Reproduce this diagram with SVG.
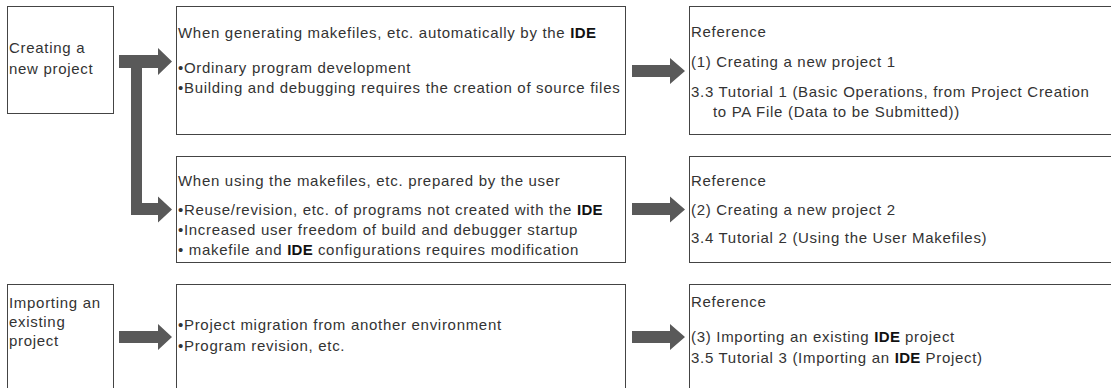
<svg xmlns="http://www.w3.org/2000/svg" width="1111" height="388" viewBox="0 0 1111 388">
<style>
.box{fill:#fff;stroke:#444;stroke-width:1}
.t{font-family:"Liberation Sans",Arial,sans-serif;font-size:15px;letter-spacing:0.7px;fill:#333}
.b{font-weight:bold;fill:#111;letter-spacing:0.3px}
.arr{fill:#595959}
</style>
<rect width="1111" height="388" fill="#fff"/>
<g id="n-create">
<rect class="box" x="7.5" y="6.5" width="106" height="107"/>
<text class="t" x="9" y="53">Creating a</text>
<text class="t" x="9" y="74">new project</text>
</g>
<g id="n-ide">
<rect class="box" x="176.5" y="6.5" width="449" height="128"/>
<text class="t" x="178" y="38">When generating makefiles, etc. automatically by the <tspan class="b">IDE</tspan></text>
<text class="t" x="178" y="73">•Ordinary program development</text>
<text class="t" x="178" y="93">•Building and debugging requires the creation of source files</text>
</g>
<g id="n-ref1">
<rect class="box" x="689.5" y="6.5" width="430" height="128"/>
<text class="t" x="691" y="37">Reference</text>
<text class="t" x="691" y="67">(1) Creating a new project 1</text>
<text class="t" x="691" y="97">3.3 Tutorial 1 (Basic Operations, from Project Creation</text>
<text class="t" x="713" y="117">to PA File (Data to be Submitted))</text>
</g>
<g id="n-user">
<rect class="box" x="176.5" y="156.5" width="449" height="106"/>
<text class="t" x="178" y="186">When using the makefiles, etc. prepared by the user</text>
<text class="t" x="178" y="215">•Reuse/revision, etc. of programs not created with the <tspan class="b">IDE</tspan></text>
<text class="t" x="178" y="235">•Increased user freedom of build and debugger startup</text>
<text class="t" x="178" y="255">• makefile and <tspan class="b">IDE</tspan> configurations requires modification</text>
</g>
<g id="n-ref2">
<rect class="box" x="689.5" y="156.5" width="430" height="106"/>
<text class="t" x="691" y="186">Reference</text>
<text class="t" x="691" y="215">(2) Creating a new project 2</text>
<text class="t" x="691" y="243">3.4 Tutorial 2 (Using the User Makefiles)</text>
</g>
<g id="n-import">
<rect class="box" x="7.5" y="284.5" width="106" height="110"/>
<text class="t" x="9" y="308">Importing an</text>
<text class="t" x="9" y="327">existing</text>
<text class="t" x="9" y="346">project</text>
</g>
<g id="n-migrate">
<rect class="box" x="176.5" y="284.5" width="449" height="110"/>
<text class="t" x="178" y="330">•Project migration from another environment</text>
<text class="t" x="178" y="351">•Program revision, etc.</text>
</g>
<g id="n-ref3">
<rect class="box" x="689.5" y="284.5" width="430" height="110"/>
<text class="t" x="691" y="307">Reference</text>
<text class="t" x="691" y="342">(3) Importing an existing <tspan class="b">IDE</tspan> project</text>
<text class="t" x="691" y="363">3.5 Tutorial 3 (Importing an <tspan class="b">IDE</tspan> Project)</text>
</g>
<g id="connectors">
<path class="arr" d="M119,55 H158 V48 L172,61.5 L158,75 V68 H142 V203 H158 V196.5 L172,209.5 L158,222.5 V215 H131 V68 H119 Z"/>
<path class="arr" d="M632,65 H670 V58 L685,71 L670,84 V77 H632 Z"/>
<path class="arr" d="M632,203 H670 V196.5 L685,209.5 L670,222.5 V215 H632 Z"/>
<path class="arr" d="M119,331 H158 V324 L172,337 L158,350 V343 H119 Z"/>
<path class="arr" d="M632,331 H670 V324 L685,337 L670,350 V343 H632 Z"/>
</g>
</svg>
